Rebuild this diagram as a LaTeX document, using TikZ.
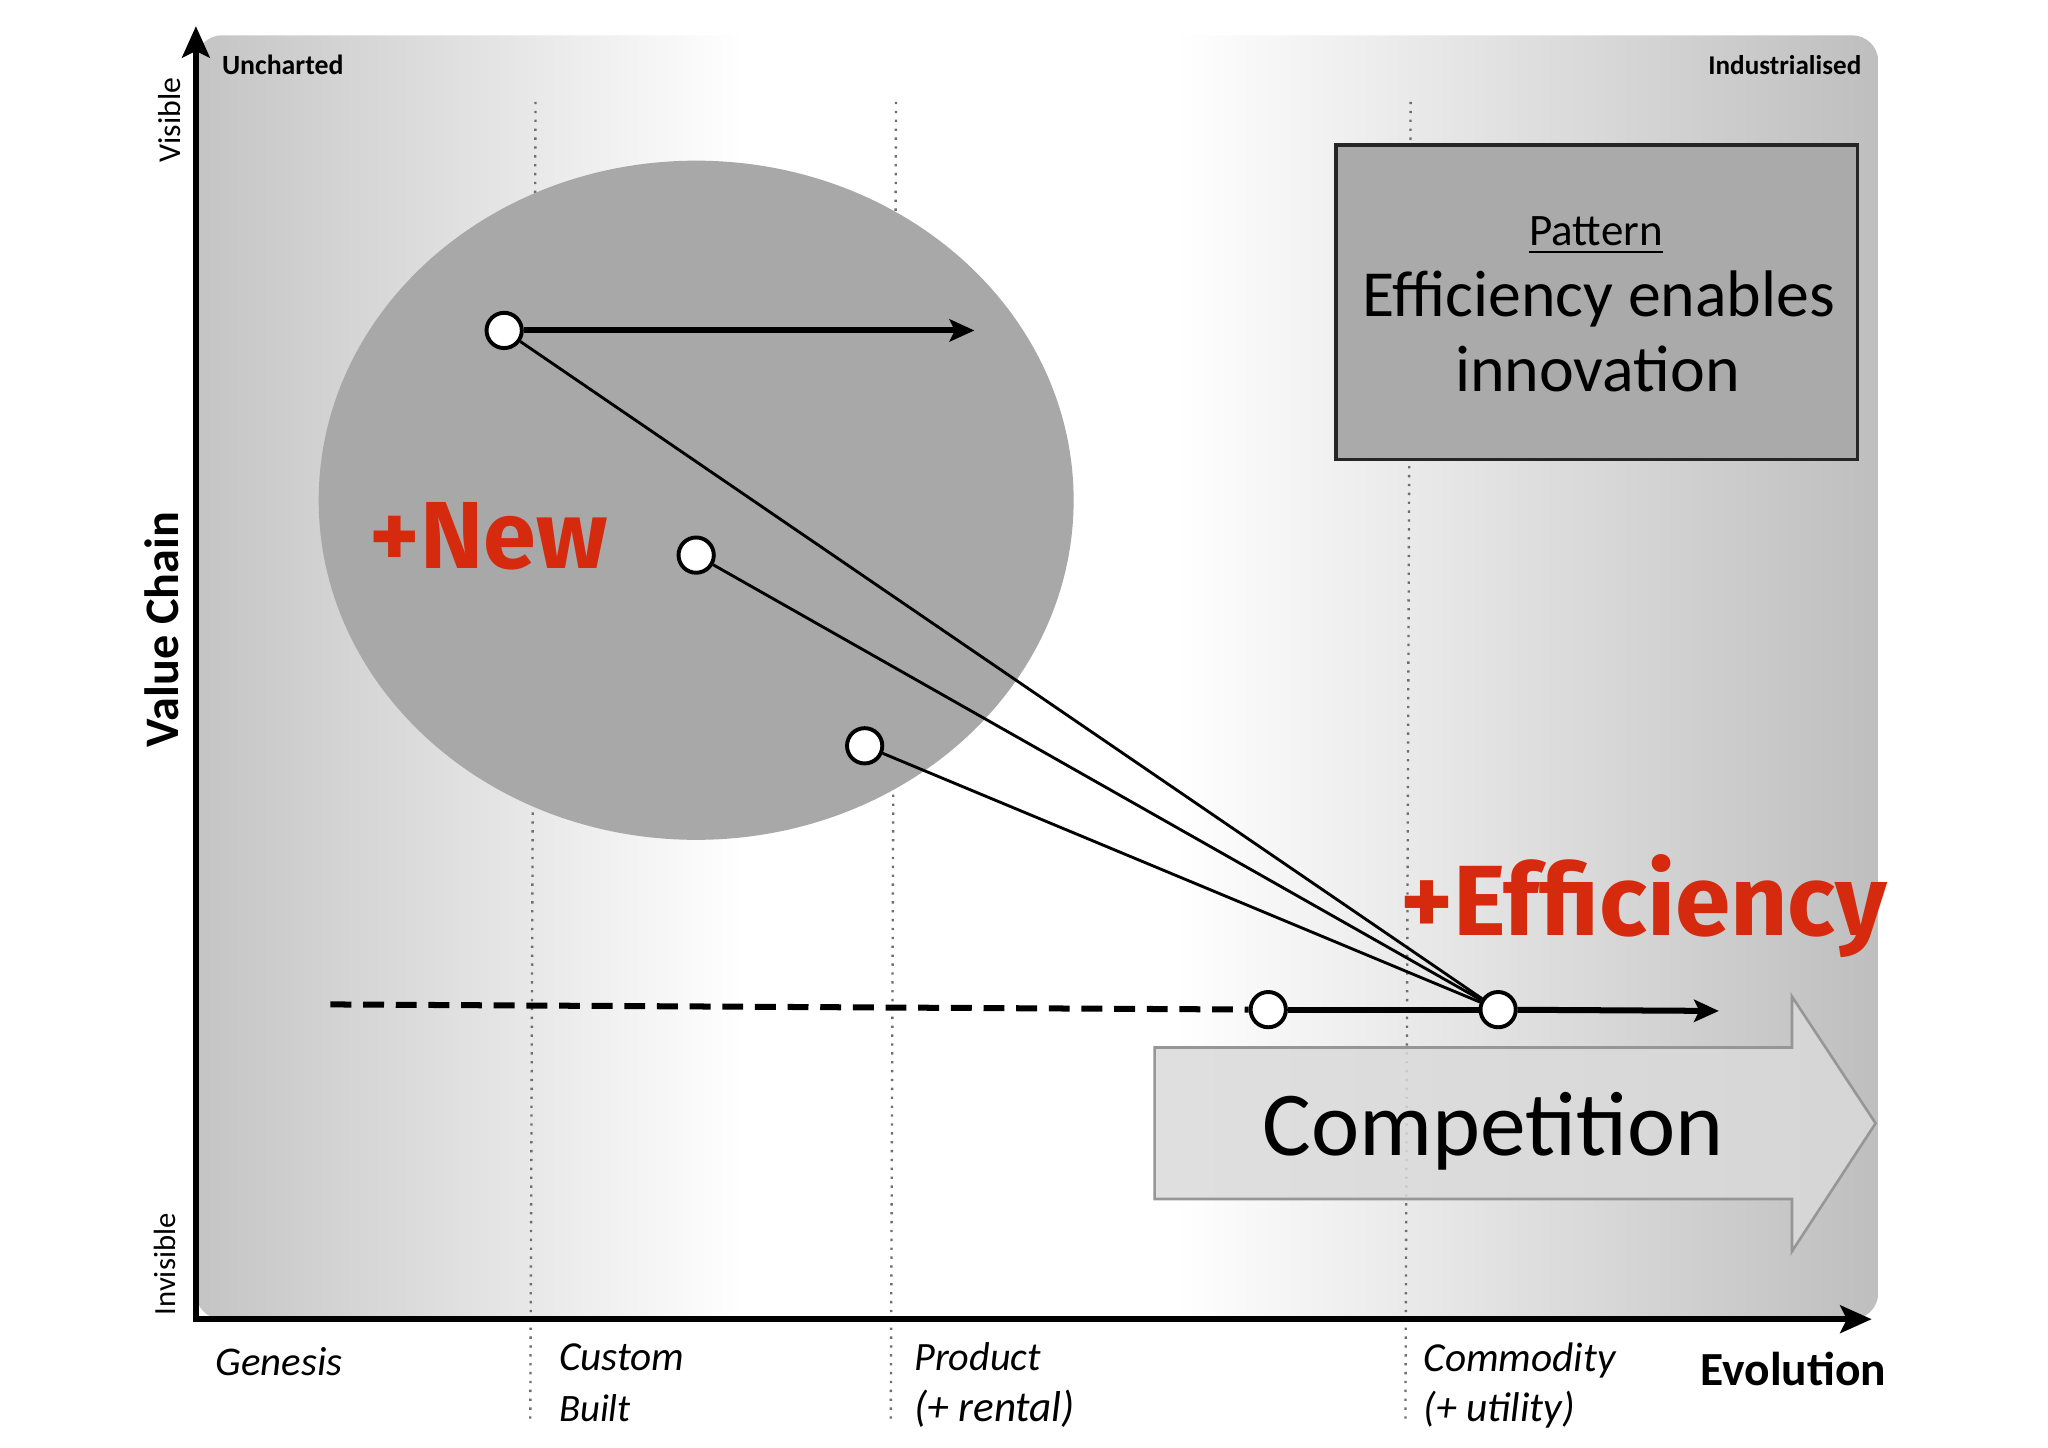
\documentclass[tikz,border=0pt]{standalone}
\usepackage{fontspec}
\setmainfont{Carlito}
\newfontfamily\redfont{Fira Sans}
\usetikzlibrary{arrows.meta,shapes.geometric}
\definecolor{redtxt}{RGB}{214,42,14}
\definecolor{ellfill}{RGB}{168,168,168}
\definecolor{boxfill}{RGB}{170,170,170}
\definecolor{panelgray}{RGB}{196,196,196}
\definecolor{panelgrayR}{RGB}{190,190,190}
\definecolor{dotgray}{RGB}{110,110,110}
\definecolor{compfill}{RGB}{218,218,218}
\definecolor{compdraw}{RGB}{150,150,150}
\tikzset{
  dot/.style={circle,draw=black,fill=white,line width=1.5pt,minimum size=13.5pt,inner sep=0pt},
  thickln/.style={line width=2.3pt},
  thinln/.style={line width=1.1pt},
  axisln/.style={line width=2.5pt},
  stage/.style={dotgray,line width=0.9pt,dash pattern=on 0.9pt off 2.5pt},
  lbl/.style={inner sep=0pt,outer sep=0pt},
}
\begin{document}
\begin{tikzpicture}[x=0.5pt,y=-0.5pt]
\useasboundingbox[fill=white] (0,0) rectangle (1568,1108);
% background panel
\begin{scope}
\clip[rounded corners=10pt] (150,27) rectangle (1438,1010);
\shade[left color=panelgray,right color=white] (150,27) rectangle (570,1010);
\fill[white] (569,27) rectangle (901,1010);
\shade[left color=white,right color=panelgrayR] (900,27) rectangle (1440,1010);
\end{scope}
% stage lines
\draw[stage] (410,78) -- (406,1088);
\draw[stage] (686,78) -- (682,1088);
\draw[stage] (1080,78) -- (1076,1090);
% ellipse
\fill[ellfill] (533,383) ellipse [x radius=289, y radius=260];
% pattern box
\node[lbl,draw=black!85,fill=boxfill,line width=1.3pt,minimum width=199.5pt,minimum height=120.5pt] (box) at (1222.5,231.5) {};
\node[lbl,anchor=base] (pat) at (1222,188) {\resizebox{51pt}{!}{\underline{Pattern}}};
\node[lbl,anchor=base] (eff) at (1224,242) {\resizebox{181pt}{!}{Efficiency enables}};
\node[lbl,anchor=base] (inn) at (1223,300) {\resizebox{109pt}{!}{innovation}};
% competition arrow
\draw[compdraw,fill=compfill,fill opacity=0.85,line width=1pt]
  (884,802) -- (1372,802) -- (1372,763) -- (1436,860) -- (1372,958) -- (1372,918) -- (884,918) -- cycle;
\node[lbl,anchor=base] (comp) at (1143,885) {\resizebox{176.5pt}{!}{Competition}};
% axes
\coordinate (ytip) at (150,20);
\coordinate (xtip) at (1433,1010);
\draw[axisln,-{Stealth[length=12pt,width=10.5pt,inset=2.5pt]}] (150,1012) -- (ytip);
\draw[axisln,-{Stealth[length=12pt,width=10.5pt,inset=2.5pt]}] (148,1010) -- (xtip);
% axis labels
\node[lbl,anchor=base west] (unch) at (170,57) {\resizebox{46.5pt}{!}{\bfseries Uncharted}};
\node[lbl,anchor=base east] (ind) at (1425,57) {\resizebox{58.5pt}{!}{\bfseries Industrialised}};
\node[lbl,rotate=90] (vis) at (130,92) {\resizebox{32.5pt}{!}{Visible}};
\node[lbl,rotate=90] (invis) at (126,968) {\resizebox{39pt}{!}{Invisible}};
\node[lbl,rotate=90] (vc) at (124,482) {\resizebox{90pt}{!}{\bfseries Value Chain}};
\node[lbl,anchor=base west] (gen) at (165,1053) {\resizebox{48.5pt}{!}{\itshape Genesis}};
\node[lbl,anchor=base west] (cust) at (428,1049) {\resizebox{48pt}{!}{\itshape Custom}};
\node[lbl,anchor=base west] (built) at (428,1088) {\resizebox{27.5pt}{!}{\itshape Built}};
\node[lbl,anchor=base west] (prod) at (700,1049) {\resizebox{48.5pt}{!}{\itshape Product}};
\node[lbl,anchor=base west] (rent) at (700,1088) {\resizebox{61.5pt}{!}{\itshape (+ rental)}};
\node[lbl,anchor=base west] (comm) at (1090,1050) {\resizebox{73.5pt}{!}{\itshape Commodity}};
\node[lbl,anchor=base west] (util) at (1090,1088) {\resizebox{58pt}{!}{\itshape (+ utility)}};
\node[lbl,anchor=base west] (evo) at (1302,1061) {\resizebox{71pt}{!}{\bfseries Evolution}};
% red labels
\node[lbl,anchor=base west,text=redtxt] (new) at (283,435) {\resizebox{91pt}{!}{\redfont\bfseries +New}};
\node[lbl,anchor=base west,text=redtxt] (effl) at (1072,716) {\resizebox{186.5pt}{!}{\redfont\bfseries +Efficiency}};
% components
\node[dot] (c1) at (386,253) {};
\node[dot] (c2) at (533,425) {};
\node[dot] (c3) at (662,571) {};
\node[dot] (c4) at (971,773) {};
\node[dot] (c5) at (1147,773) {};
\coordinate (a1) at (746,253);
\coordinate (a2) at (1316,774);
\coordinate (d0) at (253,769);
\draw[thickln,-{Stealth[length=9.5pt,width=8.5pt,inset=2pt]}] (c1) -- (a1);
\draw[thinln] (c1) -- (c5);
\draw[thinln] (c2) -- (c5);
\draw[thinln] (c3) -- (c5);
\draw[thickln,dash pattern=on 8pt off 4.5pt] (d0) -- (c4);
\draw[thickln] (c4) -- (c5);
\draw[thickln,-{Stealth[length=9.5pt,width=8.5pt,inset=2pt]}] (c5) -- (a2);
\end{tikzpicture}
\end{document}
